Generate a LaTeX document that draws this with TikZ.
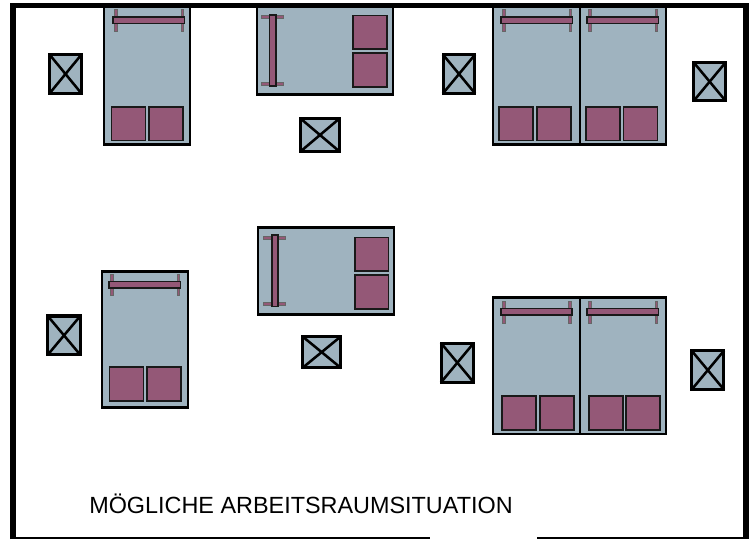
\documentclass[tikz,border=0pt]{standalone}
\usepackage{fontspec}
\setmainfont{Liberation Sans}
\definecolor{bedblue}{HTML}{9FB3BF}
\definecolor{pillowpurple}{HTML}{945877}
\tikzset{
  bedbox/.style={draw=black,fill=bedblue,line width=1.6pt},
  pillowbox/.style={draw=black!90,fill=pillowpurple,line width=1.15pt},
  barbox/.style={draw=black!90,fill=pillowpurple,line width=1.15pt},
  legbox/.style={draw=black!60,fill=pillowpurple,line width=.5pt},
  stoolbox/.style={draw=black,fill=bedblue,line width=2.3pt},
  stoolcross/.style={draw=black,line width=1.9pt},
  wall/.style={draw=black,line width=4.3pt,miter limit=10},
  caption/.style={anchor=base west,inner sep=0pt,font=\fontsize{17.55pt}{20pt}\selectfont}
}
% rectangle given by outer edges, with inset for half stroke
\newcommand{\outerbox}[6]{\path[#1] ({#3+#2},{#4+#2}) rectangle ({#5-#2},{#6-#2});}
% #1 bar top, #2 bar left, #3 first pillow left, #4 second pillow left, #5 pillow top
\newcommand{\vbedparts}[5]{%
  \outerbox{legbox}{.3}{#2+1.8}{#1-6.7}{#2+5.2}{#1+15.5}
  \outerbox{legbox}{.3}{#2+68.4}{#1-6.7}{#2+71.8}{#1+15.5}
  \outerbox{barbox}{.75}{#2}{#1}{#2+73}{#1+8.2}
  \outerbox{pillowbox}{.75}{#3}{#5}{#3+35.5}{#5+35.3}
  \outerbox{pillowbox}{.75}{#4}{#5}{#4+35.5}{#5+35.3}
}
% #1 bar top, #2 bar left, #3 pillow left, #4 first pillow top
\newcommand{\hbedparts}[4]{%
  \outerbox{legbox}{.3}{#2-7.5}{#1+1.5}{#2+14.5}{#1+4.9}
  \outerbox{legbox}{.3}{#2-7.5}{#1+68.2}{#2+14.5}{#1+71.6}
  \outerbox{barbox}{.75}{#2}{#1}{#2+8}{#1+73}
  \outerbox{pillowbox}{.75}{#3}{#4}{#3+35.4}{#4+35.3}
  \outerbox{pillowbox}{.75}{#3}{#4+37.6}{#3+35.4}{#4+72.9}
}
\newcommand{\stool}[4]{%
  \outerbox{stoolbox}{1.5}{#1}{#2}{#3}{#4}
  \path[stoolcross] ({#1+1.2},{#2+1.2}) -- ({#3-1.2},{#4-1.2});
  \path[stoolcross] ({#1+1.2},{#4-1.2}) -- ({#3-1.2},{#2+1.2});
}
\begin{document}
\begin{tikzpicture}[x=.75pt,y=-.75pt]
\useasboundingbox (0,0) rectangle (753,539);
% top row
\outerbox{bedbox}{1}{102.7}{6}{191.3}{145.5}
\vbedparts{16}{112.3}{110.7}{148.3}{106}
\outerbox{bedbox}{1}{256}{6}{394}{95.5}
\hbedparts{14}{268.7}{352.3}{14.7}
\outerbox{bedbox}{1}{492.3}{6}{581}{145.5}
\outerbox{bedbox}{1}{579}{6}{667.3}{145.5}
\vbedparts{16}{500.3}{498.3}{536}{106}
\vbedparts{16}{586.3}{585}{622.7}{106}
% middle row
\outerbox{bedbox}{1}{100.7}{270.5}{189.3}{408.5}
\vbedparts{280.6}{108.3}{108.7}{146.3}{366.3}
\outerbox{bedbox}{1}{256.7}{226.5}{395}{315.5}
\hbedparts{234.3}{271}{354}{236.7}
\outerbox{bedbox}{1}{492}{296.5}{581}{435}
\outerbox{bedbox}{1}{579}{296.5}{667.3}{435}
\vbedparts{307.7}{500}{501.3}{539.2}{395.3}
\vbedparts{307.7}{586.3}{588}{625.4}{395.3}
% stools
\stool{48.3}{53.3}{82.7}{94.7}
\stool{299.3}{117.3}{340.7}{152.7}
\stool{441.7}{53.3}{476.3}{94.7}
\stool{692.3}{61}{727}{102.3}
\stool{46.3}{314.5}{81.7}{356.3}
\stool{301}{335}{342.3}{369.3}
\stool{439.7}{341.7}{475}{383.7}
\stool{690.3}{349.3}{725.3}{391}
% walls
\path[wall] (13.2,539) -- (13.2,5.5) -- (746,5.5) -- (746,539);
\fill[black] (10.3,536.7) rectangle (430,539);
\fill[black] (536.6,536.7) rectangle (748.9,539);
\node[caption] (title) at (89,513.5) {MÖGLICHE ARBEITSRAUMSITUATION};
\end{tikzpicture}
\end{document}
